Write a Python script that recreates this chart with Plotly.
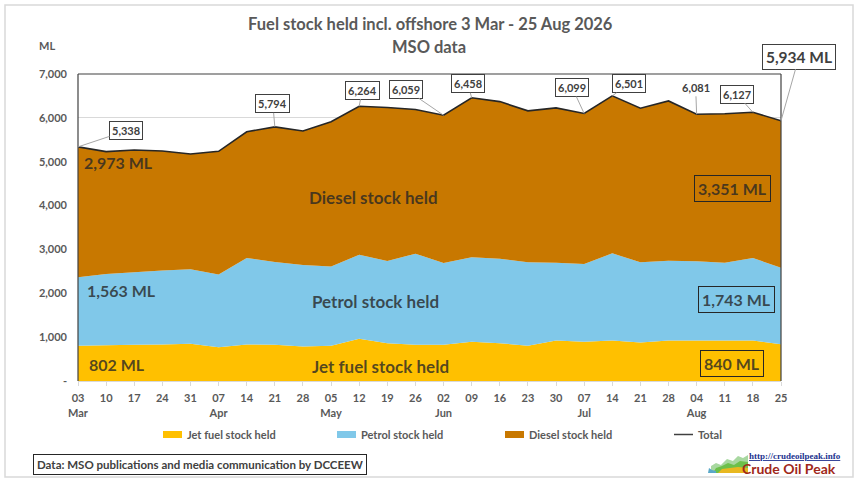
import plotly.graph_objects as go

# ---------------- data ----------------
day_labels = ["03", "10", "17", "24", "31", "07", "14", "21", "28", "05", "12", "19", "26",
              "02", "09", "16", "23", "30", "07", "14", "21", "28", "04", "11", "18", "25"]
month_labels = ["Mar", "", "", "", "", "Apr", "", "", "", "May", "", "", "",
                "Jun", "", "", "", "", "Jul", "", "", "", "Aug", "", "", ""]
jet = [802, 817, 825, 832, 847, 772, 832, 825, 787, 802, 962, 862, 825,
       825, 893, 863, 802, 923, 893, 923, 878, 923, 923, 923, 923, 840]
petrol = [1563, 1624, 1654, 1685, 1700, 1654, 1973, 1889, 1858, 1806, 1918, 1874, 2078,
          1866, 1927, 1926, 1904, 1776, 1775, 1988, 1828, 1821, 1806, 1776, 1882, 1743]
diesel = [2973, 2789, 2789, 2728, 2630, 2811, 2879, 3080, 3055, 3304, 3384, 3501, 3289,
          3368, 3638, 3582, 3453, 3528, 3431, 3590, 3514, 3642, 3352, 3396, 3322, 3351]
series_names = ["Jet fuel stock held", "Petrol stock held", "Diesel stock held", "Total"]
y_ticks = [0, 1000, 2000, 3000, 4000, 5000, 6000, 7000]
y_tick_text = ["-", "1,000", "2,000", "3,000", "4,000", "5,000", "6,000", "7,000"]
labelled_points = [0, 7, 10, 13, 14, 18, 19, 22, 24, 25]

total = [j + p + d for j, p, d in zip(jet, petrol, diesel)]
x = list(range(len(day_labels)))

# ---------------- styling ----------------
W, H = 857, 483
L, R, T, B = 78, 857 - 781, 74, 483 - 381
PW, PH = W - L - R, H - T - B
FONT = "Lato"
GREY = "#595959"
DARK = "#404040"
TXT = "rgba(38,38,38,0.78)"
C_JET, C_PET, C_DIE = "#FFC000", "#80C8E9", "#C87800"


def px(v):
    return (v - L) / PW


def py(v):
    return (H - B - v) / PH


def note(text, cx, cy, size, color, **kw):
    d = dict(text=text, x=px(cx), y=py(cy), xref="paper", yref="paper", showarrow=False,
             xanchor="center", yanchor="middle",
             font=dict(family=kw.pop("family", FONT), size=size, color=color, weight=700))
    d.update(kw)
    return d


fig = go.Figure()
fig.add_trace(go.Scatter(x=x, y=jet, name=series_names[0], stackgroup="s", mode="none",
                         fillcolor=C_JET, showlegend=False))
fig.add_trace(go.Scatter(x=x, y=petrol, name=series_names[1], stackgroup="s", mode="none",
                         fillcolor=C_PET, showlegend=False))
fig.add_trace(go.Scatter(x=x, y=diesel, name=series_names[2], stackgroup="s", mode="none",
                         fillcolor=C_DIE, showlegend=False))
fig.add_trace(go.Scatter(x=x, y=total, name=series_names[3], mode="lines",
                         line=dict(color="#262626", width=1.6), showlegend=False))

ann = []
shapes = []

# titles
ann.append(note("Fuel stock held incl. offshore 3 Mar - 25 Aug 2026", 430, 24, 16.5, GREY))
ann.append(note("MSO data", 429, 47, 16.5, GREY))
ann.append(note("ML", 47, 46, 11, GREY))

# total labels
offsets = {0: (48, -16), 7: (-2, -23), 10: (3, -16), 13: (-38, -26), 14: (-4, -14),
           18: (-12, -26), 19: (17, -12), 22: (-1, -27), 24: (-16, -18), 25: (18, -64)}
for i in labelled_points:
    ax, ay = offsets[i]
    last = i == len(total) - 1
    boxed = i != 22
    ann.append(dict(
        x=x[i], y=total[i], xref="x", yref="y",
        text=f"{total[i]:,}" + (" ML" if last else ""),
        showarrow=True, arrowhead=0, arrowwidth=1, arrowcolor="#A6A6A6",
        ax=ax, ay=ay, standoff=0,
        bgcolor="white" if boxed else "rgba(0,0,0,0)",
        bordercolor=DARK if boxed else "rgba(0,0,0,0)", borderwidth=1, borderpad=2 if not last else 3,
        font=dict(family=FONT, size=15.5 if last else 11, color=DARK, weight=700)))

# series names inside areas
for txt, (cx, cy) in [(series_names[2], (373, 197)), (series_names[1], (375, 301)),
                      (series_names[0], (380, 366))]:
    ann.append(note(txt, cx, cy, 17, TXT))

# start values
for val, (cx, cy) in [(diesel[0], (118, 162)), (petrol[0], (121, 290)), (jet[0], (117, 364))]:
    ann.append(note(f"{val:,} ML", cx, cy, 16, TXT))
# end values (boxed)
for val, (cx, cy) in [(diesel[-1], (732, 188)), (petrol[-1], (736, 299)), (jet[-1], (732, 363))]:
    ann.append(note(f"{val:,} ML", cx, cy, 16, TXT, bordercolor="#262626", borderwidth=1, borderpad=3))

# manual legend
leg = [(163, C_JET, "rect", series_names[0]), (337, C_PET, "rect", series_names[1]),
       (505, C_DIE, "rect", series_names[2]), (674, "#404040", "line", series_names[3])]
for lx, col, kind, name in leg:
    if kind == "rect":
        shapes.append(dict(type="rect", xref="paper", yref="paper", x0=px(lx), x1=px(lx + 19),
                           y0=py(438), y1=py(431), fillcolor=col, line=dict(width=0)))
    else:
        shapes.append(dict(type="line", xref="paper", yref="paper", x0=px(lx), x1=px(lx + 19),
                           y0=py(434.5), y1=py(434.5), line=dict(color=col, width=1.5)))
    ann.append(note(name, lx + 22, 434, 11, GREY, xanchor="left"))

# source box
ann.append(note("Data: MSO publications and media communication by DCCEEW", 200, 464, 11.5, DARK,
                bordercolor="#262626", borderwidth=1, borderpad=3))

# logo
ann.append(note("<u>http://crudeoilpeak.info</u>", 795, 456, 9, "#23338F", family="Liberation Serif"))
ann.append(note("Crude Oil Peak", 789, 468, 14, "#A0281A"))


def poly(pts, col):
    d = "M " + " L ".join(f"{px(a):.5f},{py(b):.5f}" for a, b in pts) + " Z"
    shapes.append(dict(type="path", xref="paper", yref="paper", path=d, fillcolor=col,
                       line=dict(width=0)))


poly([(711, 473), (711, 466), (716, 463), (721, 465), (727, 459), (733, 461), (738, 456),
      (743, 458), (748, 455), (748, 473)], "#A8D8A0")
poly([(713, 473), (716, 468), (722, 466), (728, 463), (734, 465), (740, 461), (748, 462),
      (748, 473)], "#6CC04A")
poly([(718, 473), (722, 469), (730, 468), (738, 467), (748, 468), (748, 473)], "#E8B820")
poly([(708, 473), (709, 468), (712, 470), (716, 471), (716, 473)], "#5AA8C8")

# plot frame (left, top, right)
for x0, y0, x1, y1 in [(0, 0, 0, 1), (0, 1, 1, 1), (1, 0, 1, 1)]:
    shapes.append(dict(type="line", xref="x domain", yref="y domain", x0=x0, y0=y0, x1=x1, y1=y1,
                       line=dict(color="#404040", width=1.2)))
# outer border
shapes.append(dict(type="rect", xref="paper", yref="paper", x0=px(5), x1=px(853), y0=py(477), y1=py(5),
                   line=dict(color="#D9D9D9", width=1.5), layer="below"))

fig.update_layout(
    width=W, height=H, template="none",
    margin=dict(l=L, r=R, t=T, b=B, autoexpand=False),
    paper_bgcolor="white", plot_bgcolor="white",
    annotations=ann, shapes=shapes, showlegend=False,
    xaxis=dict(range=[0, len(x) - 1], tickvals=x,
               ticktext=[f"{d}<br>{m}" if m else d for d, m in zip(day_labels, month_labels)],
               showgrid=False, zeroline=False, showline=True, linecolor="#D9D9D9", linewidth=1,
               ticks="outside", ticklen=4, tickcolor="#D9D9D9", automargin=False,
               ticklabelstandoff=3,
               tickfont=dict(family=FONT, size=11, color=GREY, weight=700)),
    yaxis=dict(range=[0, 7000], tickvals=y_ticks, ticktext=y_tick_text, showgrid=True,
               gridcolor="#D9D9D9", gridwidth=1, zeroline=False, showline=False, ticks="",
               automargin=False, ticklabelstandoff=10,
               tickfont=dict(family=FONT, size=11, color=GREY, weight=700)),
)

fig.write_html("out.html", config={"displayModeBar": False},
               post_script="document.body.style.margin='0';document.body.style.overflow='hidden';")
